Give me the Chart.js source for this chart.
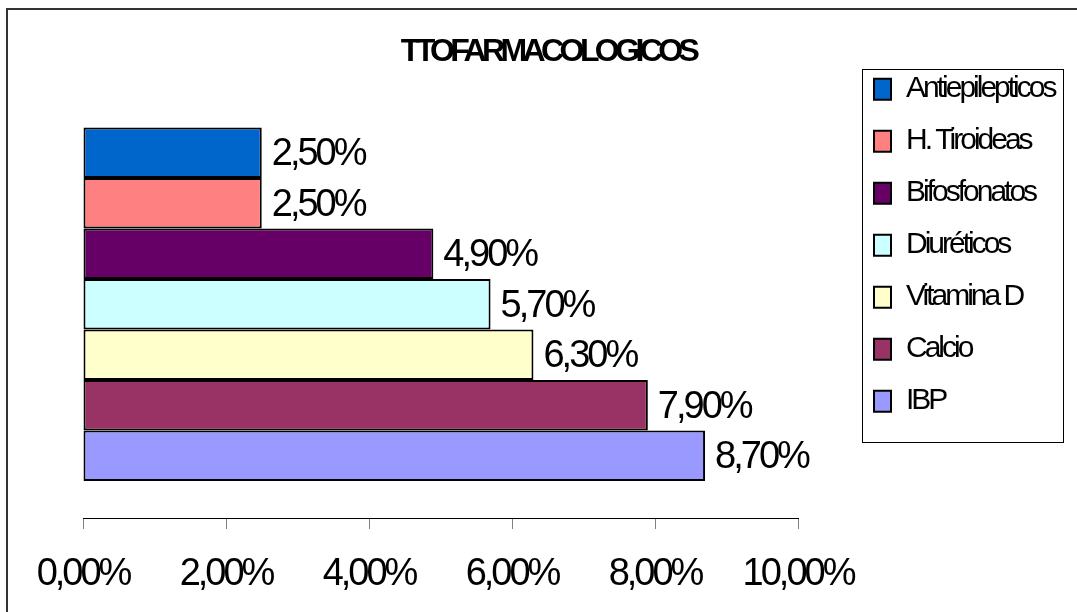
<!DOCTYPE html>
<html>
<head>
<meta charset="utf-8">
<script src="https://cdn.jsdelivr.net/npm/chart.js@4"></script>
<style>
    html, body { margin: 0; padding: 0; background: #fff; }
    #wrap { position: relative; width: 1077px; height: 612px; overflow: hidden; }
    #marco { position: absolute; left: 6px; top: 8px; width: 1200px; height: 800px;
             border-left: 2px solid #333; border-top: 2px solid #333; pointer-events: none; }
</style>
</head>
<body>
<div id="wrap">
    <canvas id="ttoChart" width="1077" height="612"></canvas>
    <div id="marco"></div>
</div>
<script>
// ── Datos ─────────────
const categorias   = [''];
const tratamientos = ['Antiepilepticos', 'H. Tiroideas', 'Bifosfonatos', 'Diuréticos', 'Vitamina D', 'Calcio', 'IBP'];
const porcentajes  = [2.5, 2.5, 4.9, 5.7, 6.3, 7.9, 8.7];
const colores      = ['#0066cc', '#ff8080', '#660066', '#ccffff', '#ffffcc', '#993366', '#9999ff'];
const ticksX       = [0, 2, 4, 6, 8, 10];

const fuente = "'Liberation Sans', Arial, sans-serif";
const formato = v => v.toFixed(2).replace('.', ',') + '%';

// texto apretado como en el original (Excel)
const apretado = {
    id: 'apretado',
    beforeUpdate(chart) { chart.ctx.letterSpacing = '-3px'; },
    beforeDraw(chart) { chart.ctx.letterSpacing = '-3px'; }
};

// leyenda con ancho fijo y título más apretado
const ajustes = {
    id: 'ajustes',
    beforeLayout(chart) {
        const ley = chart.legend;
        if (ley && !ley._anchoFijo) {
            const fit = ley.fit;
            ley.fit = function () { fit.call(this); this.width = 221; };
            ley._anchoFijo = true;
        }
        const tit = chart.titleBlock;
        if (tit && !tit._apretado) {
            const draw = tit.draw;
            tit.draw = function () {
                const prev = this.ctx.letterSpacing;
                this.ctx.letterSpacing = '-4.6px';
                draw.call(this);
                this.ctx.letterSpacing = prev;
            };
            tit._apretado = true;
        }
    }
};

// ── Etiquetas de valor ─────────────
const etiquetas = {
    id: 'etiquetas',
    afterDatasetsDraw(chart) {
        const ctx = chart.ctx;
        ctx.save();
        ctx.font = '38px ' + fuente;
        ctx.fillStyle = '#000';
        ctx.textBaseline = 'middle';
        chart.data.datasets.forEach((ds, i) => {
            chart.getDatasetMeta(i).data.forEach((bar, j) => {
                ctx.fillText(formato(ds.data[j]), bar.x + 10, bar.y + 2);
            });
        });
        ctx.restore();
    }
};

// ── Marco de la leyenda ─────────────
const marcoLeyenda = {
    id: 'marcoLeyenda',
    afterDraw(chart) {
        const cajas = chart.legend.legendHitBoxes;
        if (!cajas.length) return;
        const primera = cajas[0];
        const ultima = cajas[cajas.length - 1];
        const ctx = chart.ctx;
        ctx.save();
        ctx.strokeStyle = '#000';
        ctx.lineWidth = 1;
        const top = Math.round(primera.top - 5);
        const bottom = Math.round(ultima.top + 56);
        ctx.strokeRect(Math.round(primera.left - 12) + 0.5, top + 0.5, 201, bottom - top);
        ctx.restore();
    }
};

(function () {
    const ctx = document.getElementById('ttoChart');
    Chart.defaults.font.family = fuente;

    new Chart(ctx, {
        type: 'bar',
        data: {
            labels: categorias,
            datasets: tratamientos.map((t, i) => ({
                label: t,
                data: [porcentajes[i]],
                backgroundColor: colores[i],
                borderColor: '#000',
                borderWidth: 2,
                borderSkipped: false,
                categoryPercentage: 0.827,
                barPercentage: 1
            }))
        },
        options: {
            indexAxis: 'y',
            responsive: false,
            animation: false,
            layout: { padding: { left: 23, right: 4, top: 0, bottom: 0 } },
            scales: {
                x: {
                    min: 0,
                    max: 10,
                    afterBuildTicks: axis => { axis.ticks = ticksX.map(v => ({ value: v })); },
                    afterFit: s => { s.height = 94; },
                    ticks: {
                        font: { size: 38 },
                        color: '#000',
                        padding: 23,
                        maxRotation: 0,
                        autoSkip: false,
                        callback: v => formato(v)
                    },
                    grid: { drawOnChartArea: false, tickLength: 11, color: '#808080' },
                    border: { color: '#000', width: 1 }
                },
                y: {
                    grid: { display: false },
                    border: { display: false },
                    ticks: { display: false },
                    afterFit: s => { s.width = 60; }
                },
                y2: {
                    type: 'category',
                    labels: categorias,
                    position: 'right',
                    grid: { display: false },
                    border: { display: false },
                    ticks: { display: false },
                    afterFit: s => { s.width = 54; }
                }
            },
            plugins: {
                title: {
                    display: true,
                    text: 'TTOFARMACOLOGICOS',
                    color: '#000',
                    font: { size: 32, weight: 'bold' },
                    padding: { top: 33, bottom: 19 }
                },
                legend: {
                    position: 'right',
                    align: 'start',
                    title: { display: true, text: ' ', padding: { top: 51, bottom: 0 }, font: { size: 1 } },
                    labels: {
                        color: '#000',
                        font: { size: 30 },
                        boxWidth: 17,
                        boxHeight: 21,
                        padding: 22
                    }
                },
                tooltip: { enabled: false }
            }
        },
        plugins: [apretado, ajustes, etiquetas, marcoLeyenda]
    });
})();
</script>
</body>
</html>
